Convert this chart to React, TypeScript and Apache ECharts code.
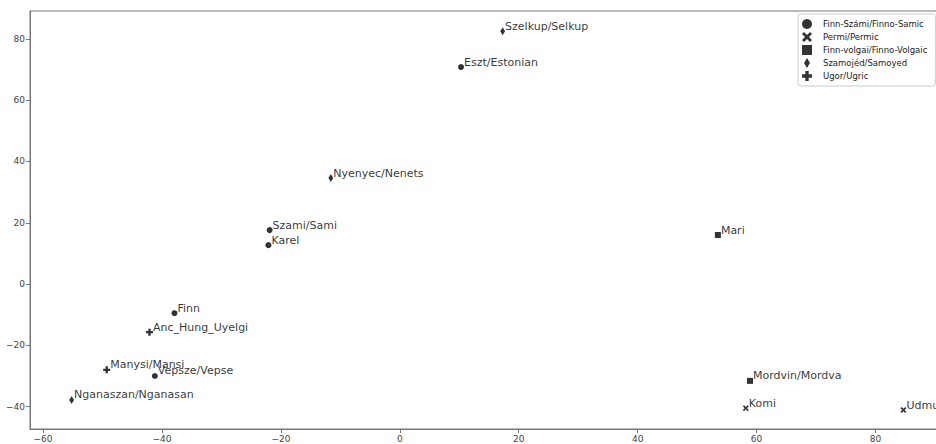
import React, { useEffect, useRef } from "react";
import * as echarts from "echarts";

const groups = [
  "Finn-Számi/Finno-Samic",
  "Permi/Permic",
  "Finn-volgai/Finno-Volgaic",
  "Szamojéd/Samoyed",
  "Ugor/Ugric",
];

const names = [
  "Szelkup/Selkup", "Eszt/Estonian", "Nyenyec/Nenets", "Szami/Sami", "Karel",
  "Mari", "Finn", "Anc_Hung_Uyelgi", "Manysi/Mansi", "Vepsze/Vepse",
  "Nganaszan/Nganasan", "Mordvin/Mordva", "Komi", "Udmurt",
];
const xVals = [17.3, 10.3, -11.6, -21.9, -22.1, 53.5, -37.9, -42.1, -49.3, -41.2, -55.2, 58.9, 58.2, 84.7];
const yVals = [82.5, 70.8, 34.6, 17.6, 12.7, 16.0, -9.5, -15.7, -28.0, -30.0, -37.8, -31.6, -40.5, -41.1];
const groupOf = [3, 0, 3, 0, 0, 2, 0, 4, 4, 0, 3, 2, 1, 1];

const xTicks = [-60, -40, -20, 0, 20, 40, 60, 80];
const yTicks = [-40, -20, 0, 20, 40, 60, 80];

const symbols = [
  "circle",
  "path://M2,0 L5,3 L8,0 L10,2 L7,5 L10,8 L8,10 L5,7 L2,10 L0,8 L3,5 L0,2 Z",
  "path://M0,0 H10 V10 H0 Z",
  "path://M3,0 L6,5 L3,10 L0,5 Z",
  "path://M3.3,0 H6.7 V3.3 H10 V6.7 H6.7 V10 H3.3 V6.7 H0 V3.3 H3.3 Z",
];
const sizes = [6, 6, 6, 8, 7];

export default function App() {
  const ref = useRef<HTMLDivElement>(null);
  useEffect(() => {
    if (!ref.current) return;
    const chart = echarts.init(ref.current, null, { renderer: "svg" });
    const series = groups.map((g, gi) => ({
      name: g,
      type: "scatter",
      symbol: symbols[gi],
      symbolSize: sizes[gi],
      symbolKeepAspect: true,
      itemStyle: { color: "#000" },
      data: names
        .map((n, i) => ({ n, i }))
        .filter((d) => groupOf[d.i] === gi)
        .map((d) => ({ value: [xVals[d.i], yVals[d.i]], name: d.n })),
      label: {
        show: true,
        position: "right",
        distance: 0,
        offset: [0, -5],
        formatter: (p: any) => p.name,
        fontFamily: "DejaVu Sans",
        fontSize: 11,
        color: "#000",
      },
      emphasis: { disabled: true },
    }));
    const axisCommon = {
      type: "value",
      splitLine: { show: false },
      axisLine: { onZero: false, lineStyle: { color: "#777" } },
    };
    const fmt = (v: number) => (v < 0 ? "\u2212" + Math.abs(v) : String(v));
    chart.setOption({
      animation: false,
      grid: {
        left: 30,
        top: 11,
        width: 915,
        height: 418,
        show: true,
        borderColor: "#777",
        borderWidth: 1,
      },
      legend: {
        orient: "vertical",
        left: 798,
        top: 14,
        padding: [5, 8, 5, 4],
        itemWidth: 22,
        itemHeight: 10,
        itemGap: 3,
        borderColor: "#ccc",
        borderWidth: 1,
        borderRadius: 3,
        symbolKeepAspect: true,
        data: groups,
        textStyle: { fontFamily: "DejaVu Sans", fontSize: 8.5, color: "#222" },
      },
      xAxis: {
        ...axisCommon,
        min: -62.2,
        max: 91.7,
        axisTick: { length: 4, lineStyle: { color: "#777" }, customValues: xTicks },
        axisLabel: {
          customValues: xTicks,
          fontFamily: "DejaVu Sans",
          fontSize: 9,
          color: "#444",
          margin: 5,
          formatter: fmt,
        },
      },
      yAxis: {
        ...axisCommon,
        min: -47.3,
        max: 89.1,
        axisTick: { length: 4, lineStyle: { color: "#777" }, customValues: yTicks },
        axisLabel: {
          customValues: yTicks,
          fontFamily: "DejaVu Sans",
          fontSize: 9,
          color: "#444",
          margin: 5,
          formatter: fmt,
        },
      },
      series,
    });
    return () => chart.dispose();
  }, []);
  return (
    <div style={{ position: "fixed", left: 0, top: 0, width: 936, height: 444, overflow: "hidden", background: "#fff" }}>
      <div ref={ref} style={{ position: "absolute", left: 0, top: 0, width: 1010, height: 444 }} />
    </div>
  );
}
